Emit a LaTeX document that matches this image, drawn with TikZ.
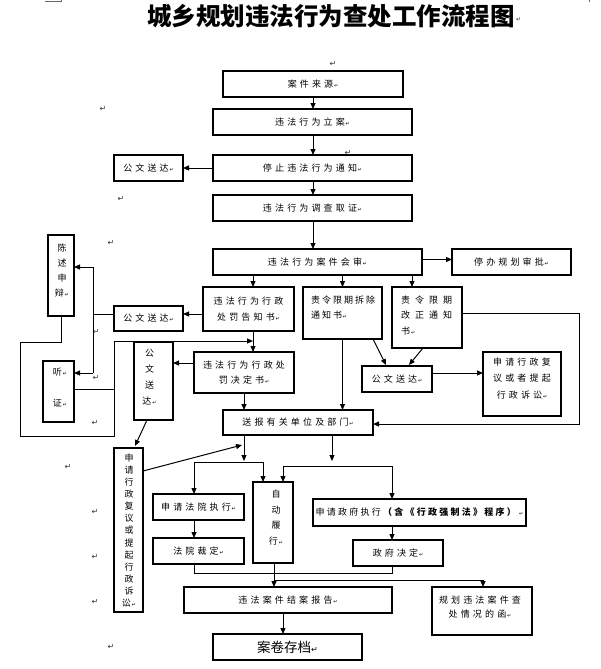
\documentclass[tikz,border=0pt]{standalone}
\usepackage{fontspec}
\usetikzlibrary{arrows.meta,calc}
\newfontfamily\cjk[LetterSpace=35]{Noto Sans CJK SC}
\newfontfamily\cjkA[LetterSpace=22]{Noto Sans CJK SC}
\newfontfamily\cjkB[LetterSpace=55]{Noto Sans CJK SC}
\newfontfamily\cjkC[LetterSpace=25]{Noto Sans CJK SC}
\newfontfamily\cjkt{Noto Sans CJK SC}
\newfontfamily\djv{DejaVu Sans}
\newcommand\rt{{\djv\fontsize{5}{5}\selectfont\,↵}}
\begin{document}
\begin{tikzpicture}[x=1pt,y=-1pt,
  box/.style={draw, line width=1.2pt, inner sep=0pt, outer sep=0pt, align=center, font=\cjk\fontsize{9}{15.5}\selectfont},
  wh/.style 2 args={minimum width=#1pt, minimum height=#2pt},
  txt/.style={inner sep=0pt, outer sep=0pt, align=center, font=\cjk\fontsize{9}{#1}\selectfont},
  vt/.style={inner sep=0pt, outer sep=0pt, align=center, font=\cjkt\fontsize{9}{#1}\selectfont},
  arr/.style={line width=1pt, -{Triangle[length=6pt,width=5pt]}},
  ln/.style={line width=1pt},
  pmark/.style={inner sep=0pt, text=black!80, font=\djv\fontsize{8}{8}\selectfont}]
\fill[white] (0,0) rectangle (600,669);
\useasboundingbox (0,0) rectangle (600,669);

% page corner marks
\draw[line width=0.6pt, black!60] (45,1.5) -- (61,1.5) -- (61,0);
\draw[line width=0.6pt, black!60] (589,0) -- (589,2.5);

% title
\node[inner sep=0pt, font=\cjkt\bfseries\fontsize{24.5}{26}\selectfont] (title) at (331,16) {城乡规划违法行为查处工作流程图};
\node[pmark, anchor=west, font=\djv\fontsize{6}{6}\selectfont] (rT) at ($(title.east)+(1,4)$) {↵};

% column / row helper coordinates
\coordinate (colM) at (313,0);
\coordinate (colA) at (253,0);
\coordinate (colB) at (342.5,0);
\coordinate (colC) at (412,0);
\coordinate (colD) at (244,0);
\coordinate (colE) at (332,0);
\coordinate (colF) at (194,0);
\coordinate (colG) at (263,0);
\coordinate (colH) at (283,0);
\coordinate (colI) at (392,0);
\coordinate (colJ) at (274,0);
\coordinate (colK) at (483,0);
\coordinate (r259) at (0,259.5);
\coordinate (r363) at (0,363);
\coordinate (r373) at (0,373);
\coordinate (r461) at (0,461);
\coordinate (r462) at (0,462);
\coordinate (r466) at (0,466);
\coordinate (r573) at (0,573);
\coordinate (r580) at (0,580);

% boxes
\node[box, wh={180}{26}] (anjian) at (313,84) {案件来源\rt};
\node[box, wh={199}{26}] (lian) at (312.5,122) {违法行为立案\rt};
\node[box, wh={199}{26}] (tingzhi) at (312.5,168) {停止违法行为通知\rt};
\node[box, wh={69}{26}] (gw1) at (148.5,168) {公文送达\rt};
\node[box, wh={199}{26}] (diaocha) at (312.5,208) {违法行为调查取证\rt};
\node[box, wh={209}{26}] (huishen) at (317.5,262) {违法行为案件会审\rt};
\node[box, wh={119}{26}] (tingban) at (511.5,262) {停办规划审批\rt};

\node[box, wh={26}{81}] (chenshu) at (61,275.5) {};
\node[vt={15}] (chenshuT) at (62,270.5) {陈\\述\\申\\辩\rt};

\node[box, wh={91}{44}] (gaozhi) at (248.5,309) {违法行为行政\\处罚告知书\rt};
\node[box, wh={79}{52}] (chaichu) at (342.5,313) {};
\node[inner sep=0pt, align=left, anchor=west, font=\cjkA\fontsize{9}{15.5}\selectfont] (chaichuT) at (311,307.5) {责令限期拆除\\通知书\rt};
\node[box, wh={70}{61}] (gaizheng) at (427,317.5) {};
\node[inner sep=0pt, align=left, anchor=west, font=\cjkB\fontsize{9}{15.5}\selectfont] (gaizhengT) at (401,315.5) {责令限期\\改正通知\\书\rt};

\node[box, wh={69}{25}] (gw2) at (148.5,318.5) {公文送达\rt};
\node[box, wh={31}{61}] (tingzheng) at (58.5,391.5) {};
\node[vt={31}] (tingzhengT) at (60,387.5) {听\rt\\证\rt};

\node[box, wh={100}{41}] (jueding) at (244,372.5) {违法行为行政处\\罚决定书\rt};
\node[box, wh={39}{78}] (gw3) at (153.5,381) {};
\node[vt={16}] (gw3T) at (149.5,377.5) {公\\文\\送\\达\rt};

\node[box, wh={150}{25}] (songbao) at (298,422.5) {送报有关单位及部门\rt};
\node[box, wh={70}{26}] (gw4) at (397,379) {公文送达\rt};
\node[box, wh={78}{64}] (fuyiR) at (522,384) {};
\node[txt={16.5}] (fuyiRT) at (522,378.5) {申请行政复\\议或者提起\\行政诉讼\rt};

\node[box, wh={29}{164}] (fuyiL) at (128.5,530) {};
\node[vt={12.1}] (fuyiLT) at (129,530.5) {申\\请\\行\\政\\复\\议\\或\\提\\起\\行\\政\\诉\\讼\rt};

\node[box, wh={91}{26}] (fayuan) at (198.5,507) {申请法院执行\rt};
\node[box, wh={91}{26}] (caiding) at (198.5,551) {法院裁定\rt};
\node[box, wh={40}{81}] (zidong) at (273,522.5) {};
\node[vt={15.5}] (zidongT) at (276,517.5) {自\\动\\履\\行\rt};
\node[box, wh={213}{27}, font=\cjkC\fontsize{9}{15.5}\selectfont] (zhengfu) at (419.5,512.5) {申请政府执行\textbf{（含《行政强制法》程序）}\rt};
\node[box, wh={90}{26}] (zfjd) at (398,553) {政府决定\rt};
\node[box, wh={208}{26}] (jiean) at (288,600) {违法案件结案报告\rt};
\node[box, wh={100}{48}] (han) at (482,611) {};
\node[txt={14}] (hanT) at (480,607) {规划违法案件查\\处情况的函\rt};
\node[box, wh={149}{26}] (dangan) at (287.5,647) {{\cjkt\fontsize{13.5}{14}\selectfont 案卷存档}{\djv\fontsize{8}{8}\selectfont ↵}};

% paragraph marks
\node[pmark] (p1) at (333,64) {↵};
\node[pmark] (p2) at (103,109) {↵};
\node[pmark] (p3) at (348,153) {↵};
\node[pmark] (p4) at (121,199) {↵};
\node[pmark] (p5) at (111,243) {↵};
\node[pmark] (p6) at (96,332) {↵};
\node[pmark] (p7) at (96,378) {↵};
\node[pmark] (p8) at (95,423) {↵};
\node[pmark] (p9) at (68,467) {↵};
\node[pmark] (p10) at (95,512) {↵};
\node[pmark] (p11) at (95,557) {↵};
\node[pmark] (p12) at (95,602) {↵};
\node[pmark] (p13) at (111,647) {↵};

% main spine
\draw[arr] (anjian.south -| colM) -- (lian.north -| colM);
\draw[arr] (lian.south -| colM) -- (tingzhi.north -| colM);
\draw[arr] (tingzhi.west) -- (gw1.east);
\draw[arr] (tingzhi.south -| colM) -- (diaocha.north -| colM);
\draw[arr] (diaocha.south -| colM) -- (huishen.north -| colM);
\draw[arr] (huishen.east |- r259) -- (tingban.west |- r259);
\draw[arr] (huishen.south -| colA) -- (gaozhi.north -| colA);
\draw[arr] (huishen.south -| colB) -- (chaichu.north -| colB);
\draw[arr] (huishen.south -| colC) -- (gaizheng.north -| colC);

% left side: hearing / statement
\coordinate (jL) at (93,314);
\coordinate (jLt) at (93,267);
\coordinate (jLb) at (93,373);
\draw[arr] (gaozhi.west |- jL) -- (gw2.east |- jL);
\draw[ln] (gw2.west |- jL) -- (jL);
\draw[ln] (jLt) -- (jLb);
\draw[arr] (jLt) -- (chenshu.east |- jLt);
\draw[arr] (jLb) -- (tingzheng.east |- jLb);
\coordinate (lp1) at (61,342);
\coordinate (lp2) at (20,342);
\coordinate (lp3) at (20,436);
\coordinate (lp4) at (114,436);
\coordinate (lp5) at (114,341);
\coordinate (tz) at (114,389);
\draw[arr] (chenshu.south) -- (lp1) -- (lp2) -- (lp3) -- (lp4) -- (lp5) -- (lp5 -| colA);
\draw[ln] (tingzheng.east |- tz) -- (tz);

% penalty decision
\draw[arr] (gaozhi.south -| colA) -- (jueding.north -| colA);
\draw[arr] (jueding.west |- r363) -- (gw3.east |- r363);
\draw[arr] ($(gw3.south)+(-6.5,0)$) -- ($(fuyiL.north)+(6.5,-2)$);
\draw[arr] (jueding.south -| colD) -- (songbao.north -| colD);
\draw[arr] (chaichu.south -| colB) -- (songbao.north -| colB);
\draw[arr] ($(chaichu.south)+(30.5,0)$) -- ($(gw4.north)+(-11,-1)$);
\draw[arr] ($(gaizheng.south)+(-4,0)$) -- ($(gw4.north)+(12,-1)$);
\draw[arr] (gw4.east |- r373) -- (fuyiR.west |- r373);
\coordinate (rR1) at (579,313);
\coordinate (rR2) at (579,424);
\draw[arr] (gaizheng.east |- rR1) -- (rR1) -- (rR2) -- (songbao.east |- rR2);

% lower part
\coordinate (aF) at (242,445);
\draw[arr] ($(fuyiL.east)+(0,-59)$) -- (aF);
\draw[arr] (songbao.south -| colD) -- (colD |- r461);
\draw[ln] (colF |- r462) -- (colG |- r462);
\draw[arr] (colF |- r462) -- (fayuan.north -| colF);
\draw[arr] (colG |- r462) -- (zidong.north -| colG);
\draw[arr] (songbao.south -| colE) -- (colE |- r461);
\draw[ln] (colH |- r466) -- (colI |- r466);
\draw[arr] (colH |- r466) -- (zidong.north -| colH);
\draw[arr] (colI |- r466) -- (zhengfu.north -| colI);
\draw[arr] (fayuan.south -| colF) -- (caiding.north -| colF);
\draw[arr] (zhengfu.south -| colI) -- (zfjd.north -| colI);
\draw[ln] (caiding.south -| colF) -- (colF |- r573) -- (colI |- r573) -- (zfjd.south -| colI);
\draw[arr] (zidong.south -| colJ) -- (jiean.north -| colJ);
\draw[arr] (colJ |- r580) -- (colK |- r580) -- (han.north -| colK);
\draw[arr] (jiean.south -| colH) -- (dangan.north -| colH);
\end{tikzpicture}
\end{document}
